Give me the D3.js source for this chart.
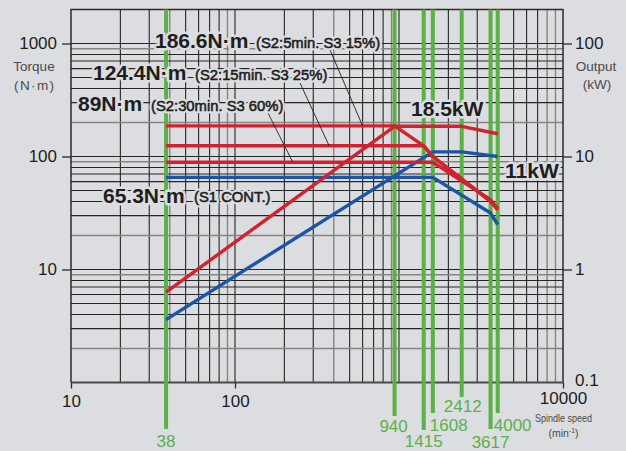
<!DOCTYPE html>
<html>
<head>
<meta charset="utf-8">
<script src="https://cdn.jsdelivr.net/npm/d3@7"></script>
<style>
  html, body { margin: 0; padding: 0; background: #dcdde0; }
  svg { display: block; font-family: "Liberation Sans", Arial, Helvetica, sans-serif; }
</style>
</head>
<body>
<svg id="chart" width="626" height="451"></svg>
<script>
// ---- data -------------------------------------------------------------
// speed marks (min^-1) drawn as green verticals
const speedMarks = [38, 940, 1415, 1608, 2412, 3617, 4000];

// torque curves (N·m) against spindle speed
const s2_5Speed   = [38, 940, 1415, 1608, 3617, 4000];
const s2_5Torque  = [186.6, 186.6, 124.4, 100, 40.1, 33.9];
const s2_15Speed  = [38, 1415, 1608, 3617, 4000];
const s2_15Torque = [124.4, 124.4, 100, 40.1, 33.9];
const s2_30Speed  = [38, 1608, 3617, 4000];
const s2_30Torque = [89, 89, 41.5, 34.6];
const s1Speed     = [38, 1608, 3617, 4000];
const s1Torque    = [65.3, 65.3, 31.6, 24.9];

// output curves (kW)
const s2PowerSpeed = [38, 940, 2412, 4000];
const s2Power      = [0.63, 18.5, 18.5, 15.9];
const s1PowerSpeed = [38, 1608, 2412, 4000];
const s1Power      = [0.36, 11, 11, 10.0];

// axis ticks
const speedTicks  = [10, 100, 10000];
const torqueTicks = [10, 100, 1000];
const outputTicks = [0.1, 1, 10, 100];

// ---- layout -----------------------------------------------------------
const W = 626, H = 451;
const L = 71, R = 563, T = 9.5, B = 382.5;
const BG = "#dcdde0";
const RED = "#d1232e", BLUE = "#1a55a8", GREEN = "#5bb048";

const svg = d3.select("#chart");
svg.append("rect").attr("width", W).attr("height", H).attr("fill", BG);

const x  = d3.scaleLog().domain([10, 10000]).range([L, R]);
const yT = d3.scaleLog().domain([1, 2000]).range([B, T]);
const yP = d3.scaleLog().domain([0.1, 200]).range([B, T]);

// ---- log grid ---------------------------------------------------------
const vGrid = [];
for (let n = 1; n <= 3; n++) for (let k = 1; k <= 9; k++) {
  const v = k * Math.pow(10, n);
  if (v > 10 && v < 10000) vGrid.push({ v, gray: k === 4 || k === 9 || (n === 3 && k === 8) });
}
const hGrid = [];
for (let n = 0; n <= 3; n++) for (let k = 1; k <= 9; k++) {
  const v = k * Math.pow(10, n);
  if (v > 1 && v < 2000) hGrid.push({ v, gray: k === 2 || k === 9 });
}
const grid = svg.append("g");
grid.selectAll(".vg").data(vGrid).join("line")
  .attr("x1", d => x(d.v)).attr("x2", d => x(d.v))
  .attr("y1", T).attr("y2", B)
  .attr("stroke", d => d.gray ? "#858585" : "#262626")
  .attr("stroke-width", d => d.gray ? 1.4 : 1.1);
grid.selectAll(".hg").data(hGrid).join("line")
  .attr("x1", L).attr("x2", R)
  .attr("y1", d => yT(d.v)).attr("y2", d => yT(d.v))
  .attr("stroke", d => d.gray ? "#858585" : "#262626")
  .attr("stroke-width", d => d.gray ? 1.4 : 1.1);

// frame
svg.append("path")
  .attr("d", `M${L},${B}V${T}H${R}V${B}`)
  .attr("fill", "none").attr("stroke", "#2a2a2a").attr("stroke-width", 1.5);
svg.append("line").attr("x1", L).attr("x2", R).attr("y1", B).attr("y2", B)
  .attr("stroke", "#4a4a4a").attr("stroke-width", 2.2);

// ---- axes -------------------------------------------------------------
const tickFont = 17;
const gl = svg.append("g").attr("transform", `translate(${L},0)`)
  .call(d3.axisLeft(yT).tickValues(torqueTicks).tickSize(9).tickPadding(5).tickFormat(d3.format("d")));
const gr = svg.append("g").attr("transform", `translate(${R},0)`)
  .call(d3.axisRight(yP).tickValues(outputTicks).tickSize(9).tickPadding(3)
    .tickFormat(d => d < 1 ? "0.1" : d3.format("d")(d)));
const gb = svg.append("g").attr("transform", `translate(0,${B})`)
  .call(d3.axisBottom(x).tickValues(speedTicks).tickSize(6).tickPadding(6).tickFormat(d3.format("d")));
[gl, gr, gb].forEach(g => {
  g.select(".domain").remove();
  g.selectAll(".tick line").attr("stroke", "#2a2a2a").attr("stroke-width", 1.3);
  g.selectAll(".tick text").attr("fill", "#1e1e1e").style("font-size", tickFont + "px")
    .style("font-family", "'Liberation Sans', Arial, sans-serif");
});
gr.selectAll(".tick").filter(d => d < 1).select("line").remove();
gr.selectAll(".tick").filter(d => d < 1).select("text").attr("dy", "0.2em");
gb.selectAll(".tick").filter(d => d === 10000).select("text").attr("dy", "0.55em");

// axis titles
const titleColor = "#4a4a4a";
const titles = svg.append("g").attr("fill", titleColor).style("font-size", "13.5px");
titles.append("text").attr("x", 34).attr("y", 71).attr("text-anchor", "middle").text("Torque");
titles.append("text").attr("x", 34).attr("y", 90).attr("text-anchor", "middle")
  .attr("textLength", 40).attr("lengthAdjust", "spacing").text("(N·m)");
titles.append("text").attr("x", 596).attr("y", 71).attr("text-anchor", "middle").text("Output");
titles.append("text").attr("x", 597).attr("y", 89).attr("text-anchor", "middle").text("(kW)");
titles.append("text").attr("x", 563.5).attr("y", 422).attr("text-anchor", "middle")
  .style("font-size", "10.5px").attr("textLength", 57).attr("lengthAdjust", "spacingAndGlyphs")
  .text("Spindle speed");
const mt = titles.append("text").attr("x", 563.5).attr("y", 437).attr("text-anchor", "middle")
  .style("font-size", "10.5px");
mt.append("tspan").text("(min");
mt.append("tspan").attr("dy", -4).style("font-size", "7px").text("-1");
mt.append("tspan").attr("dy", 4).text(")");

// ---- speed marks ------------------------------------------------------
const markLayout = [
  { end: 429, anchor: "middle", dx: 0,  base: 447 },
  { end: 416, anchor: "middle", dx: -1, base: 432 },
  { end: 430, anchor: "middle", dx: 0,  base: 447 },
  { end: 413, anchor: "start",  dx: -3, base: 431 },
  { end: 397, anchor: "middle", dx: 1,  base: 412 },
  { end: 429, anchor: "middle", dx: 0,  base: 448 },
  { end: 413, anchor: "start",  dx: -4, base: 431 }
];
const marks = svg.append("g");
speedMarks.forEach((s, i) => {
  const m = markLayout[i];
  marks.append("line")
    .attr("x1", x(s)).attr("x2", x(s)).attr("y1", T).attr("y2", m.end)
    .attr("stroke", GREEN).attr("stroke-width", 4);
  marks.append("text")
    .attr("x", x(s) + m.dx).attr("y", m.base).attr("text-anchor", m.anchor)
    .attr("fill", GREEN).style("font-size", "17px").text(s);
});

// ---- curves -----------------------------------------------------------
const torqueLine = d3.line().x(d => x(d[0])).y(d => yT(d[1]));
const powerLine  = d3.line().x(d => x(d[0])).y(d => yP(d[1]));
const curves = svg.append("g").attr("fill", "none").attr("stroke-width", 3.4)
  .attr("stroke-linejoin", "round");
const zip = (a, b) => a.map((v, i) => [v, b[i]]);

curves.append("path").attr("d", torqueLine(zip(s1Speed, s1Torque))).attr("stroke", BLUE);
curves.append("path").attr("d", powerLine(zip(s1PowerSpeed, s1Power))).attr("stroke", BLUE);
curves.append("path").attr("d", torqueLine(zip(s2_30Speed, s2_30Torque))).attr("stroke", RED);
curves.append("path").attr("d", torqueLine(zip(s2_15Speed, s2_15Torque))).attr("stroke", RED);
curves.append("path").attr("d", torqueLine(zip(s2_5Speed, s2_5Torque))).attr("stroke", RED);
curves.append("path").attr("d", powerLine(zip(s2PowerSpeed, s2Power))).attr("stroke", RED);

// ---- annotations ------------------------------------------------------
const leaders = [
  { from: [330, 50],  to: [x(600), yT(186.6)] },
  { from: [300, 83],  to: [x(375), yT(124.4)] },
  { from: [268, 113], to: [x(225), yT(89)] }
];
svg.append("g").selectAll("line").data(leaders).join("line")
  .attr("x1", d => d.from[0]).attr("y1", d => d.from[1])
  .attr("x2", d => d.to[0]).attr("y2", d => d.to[1])
  .attr("stroke", "#1e1e1e").attr("stroke-width", 0.9);

const notes = [
  { t: "186.6N·m",           x: 155, y: 48,    big: true },
  { t: "(S2:5min. S3 15%)",  x: 256, y: 48,    big: false },
  { t: "124.4N·m",           x: 93,  y: 80,    big: true },
  { t: "(S2:15min. S3 25%)", x: 195, y: 80,    big: false },
  { t: "89N·m",              x: 78,  y: 110.5, big: true },
  { t: "(S2:30min. S3 60%)", x: 151, y: 110.5, big: false },
  { t: "65.3N·m",            x: 103, y: 203,   big: true },
  { t: "(S1 CONT.)",         x: 194, y: 202,   big: false },
  { t: "18.5kW",             x: 411, y: 116,   big: true },
  { t: "11kW",               x: 505, y: 178,   big: true }
];
const smallSize = 14.8;
const ng = svg.append("g");
// halo first, so grid and marks are cut around the text
ng.selectAll(".halo").data(notes).join("text")
  .attr("x", d => d.x).attr("y", d => d.y)
  .style("font-size", d => d.big ? "21px" : smallSize + "px")
  .style("font-weight", d => d.big ? "bold" : "normal")
  .attr("fill", BG).attr("stroke", BG).attr("stroke-width", 5).attr("stroke-linejoin", "round")
  .text(d => d.t);
ng.selectAll(".txt").data(notes).join("text")
  .attr("x", d => d.x).attr("y", d => d.y)
  .style("font-size", d => d.big ? "21px" : smallSize + "px")
  .style("font-weight", d => d.big ? "bold" : "normal")
  .attr("fill", "#1e1e1e").attr("stroke", "#1e1e1e").attr("stroke-width", d => d.big ? 0 : 0.55)
  .text(d => d.t);
</script>
</body>
</html>
